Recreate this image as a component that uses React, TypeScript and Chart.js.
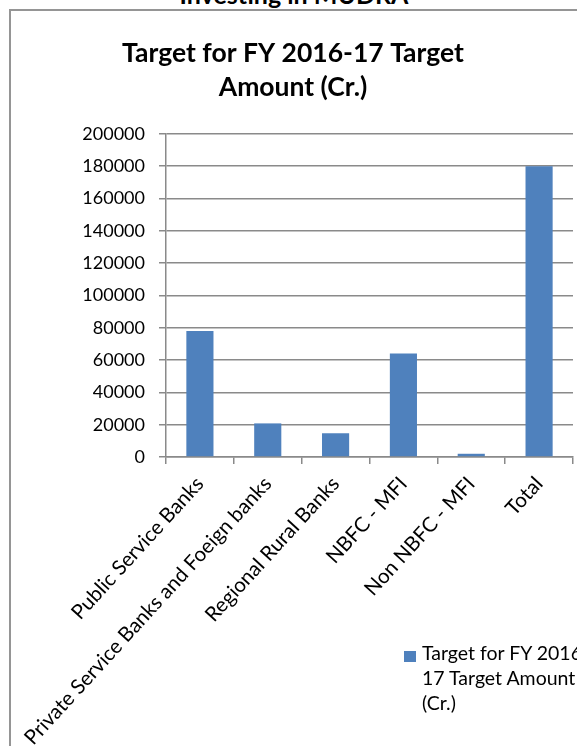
import React, { useEffect, useRef } from "react";
import { Chart, registerables } from "chart.js";

Chart.register(...registerables);

// Mudra lending targets by lender type
const categories: string[] = [
  "Public Service Banks",
  "Private Service Banks and Foeign banks",
  "Regional Rural Banks",
  "NBFC - MFI",
  "Non NBFC - MFI",
  "Total",
];
const targetAmounts: number[] = [78000, 20800, 14700, 64000, 2000, 180000];
const seriesLabel = "Target for FY 2016-17 Target Amount (Cr.)";
const titleLines: string[] = ["Target for FY 2016-17 Target", "Amount (Cr.)"];
const pageHeading = "Investing in MUDRA";
const yMin = 0;
const yMax = 200000;
const yStep = 20000;

const BAR_BLUE = "#4F81BD";
const AXIS_GREY = "#8a8a8a";
const FONT = "Lato, 'Noto Sans', sans-serif";

export default function App() {
  const canvasRef = useRef<HTMLCanvasElement | null>(null);

  useEffect(() => {
    if (!canvasRef.current) return;
    const chart = new Chart(canvasRef.current, {
      type: "bar",
      data: {
        labels: categories,
        datasets: [
          {
            label: seriesLabel,
            data: targetAmounts,
            backgroundColor: BAR_BLUE,
            barPercentage: 0.4,
            categoryPercentage: 1,
          },
        ],
      },
      options: {
        responsive: false,
        animation: false,
        layout: { padding: { top: 36, left: 13, right: 67, bottom: 0 } },
        plugins: {
          legend: { display: false },
          tooltip: { enabled: false },
          title: {
            display: true,
            text: titleLines,
            color: "#000",
            font: { family: FONT, size: 26.5, weight: "bold", lineHeight: 1.3 },
            padding: { top: 0, bottom: 29 },
          },
        },
        scales: {
          x: {
            afterFit: (scale: any) => {
              scale.height = 289;
            },
            grid: {
              offset: true,
              drawOnChartArea: false,
              drawTicks: true,
              tickLength: 7,
              color: AXIS_GREY,
              lineWidth: 1.5,
            },
            border: { display: true, color: AXIS_GREY, width: 1.5 },
            ticks: {
              autoSkip: false,
              minRotation: 47.5,
              maxRotation: 47.5,
              padding: 8,
              color: "#000",
              font: { family: FONT, size: 20.5 },
            },
          },
          y: {
            min: yMin,
            max: yMax,
            afterFit: (scale: any) => {
              scale.width = 153;
            },
            grid: {
              color: AXIS_GREY,
              lineWidth: 1.5,
              drawTicks: true,
              tickLength: 7,
            },
            border: { display: true, color: AXIS_GREY, width: 1.5 },
            ticks: {
              stepSize: yStep,
              padding: 14,
              color: "#000",
              font: { family: FONT, size: 18 },
              callback: (v: any) => String(v),
            },
          },
        },
      },
    });
    return () => chart.destroy();
  }, []);

  // allow the legend text to wrap right after the hyphen
  const legendText = seriesLabel.replace("-", "-\u200B");

  return (
    <div
      style={{
        position: "fixed",
        left: 0,
        top: 0,
        width: 577,
        height: 746,
        overflow: "hidden",
        background: "#fff",
      }}
    >
      <div
        style={{
          position: "absolute",
          left: 0,
          width: 588,
          top: -18,
          textAlign: "center",
          fontFamily: FONT,
          fontWeight: "bold",
          fontSize: 25,
          lineHeight: "25px",
          color: "#000",
          whiteSpace: "nowrap",
        }}
      >
        {pageHeading}
      </div>
      <div
        style={{
          position: "absolute",
          left: 9,
          top: 9,
          width: 800,
          height: 900,
          borderLeft: `2px solid #959595`,
          borderTop: `2px solid #959595`,
        }}
      />
      <canvas
        ref={canvasRef}
        width={640}
        height={746}
        style={{ position: "absolute", left: 0, top: 0, width: 640, height: 746 }}
      />
      <div
        style={{
          position: "absolute",
          left: 404,
          top: 651,
          width: 12,
          height: 11,
          background: BAR_BLUE,
        }}
      />
      <div
        style={{
          position: "absolute",
          left: 422,
          top: 640,
          width: 180,
          fontFamily: FONT,
          fontSize: 19.5,
          lineHeight: "25px",
          color: "#000",
        }}
      >
        {legendText}
      </div>
    </div>
  );
}
